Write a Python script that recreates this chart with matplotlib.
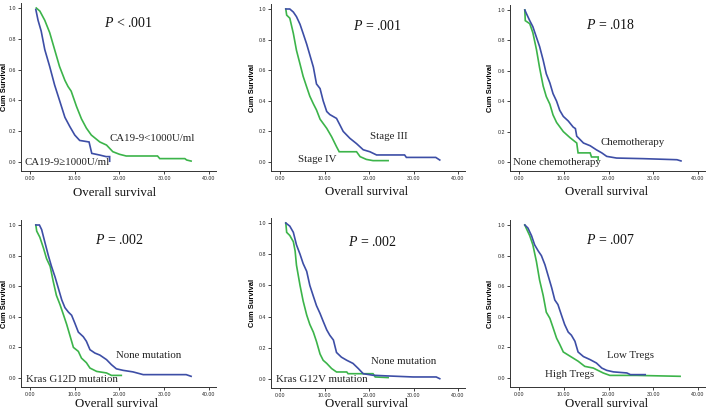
import matplotlib
matplotlib.use("Agg")
import matplotlib.pyplot as plt

plt.rcParams["mathtext.fontset"] = "custom"
plt.rcParams["mathtext.it"] = "Liberation Serif:italic"
plt.rcParams["mathtext.rm"] = "Liberation Serif"

W, H = 709, 411

BLUE = "#3d4ea6"
GREEN = "#3cb44a"

# ---------------- data ----------------
# Panel 1: CA19-9
p1_green_t = [1.4, 2.2, 3.3, 4.4, 5.5, 6.6, 7.8, 8.5, 9.2, 10.4, 11.5, 12.6, 13.7, 15.6, 17.1, 18.5, 20.0, 21.5, 28.5, 29.0, 34.6, 35.0, 36.0]
p1_green_s = [1.0, 0.98, 0.92, 0.84, 0.73, 0.62, 0.53, 0.49, 0.46, 0.36, 0.28, 0.22, 0.175, 0.13, 0.11, 0.067, 0.05, 0.039, 0.039, 0.022, 0.022, 0.013, 0.006]
p1_blue_t = [1.3, 1.8, 2.5, 3.3, 4.4, 5.5, 6.6, 7.8, 8.9, 10.0, 11.1, 13.2, 13.8, 15.6, 17.0, 17.8, 17.8]
p1_blue_s = [0.99, 0.92, 0.85, 0.73, 0.62, 0.50, 0.40, 0.29, 0.23, 0.175, 0.14, 0.13, 0.056, 0.045, 0.035, 0.035, 0.005]

# Panel 2: Stage
p2_blue_t = [1.3, 2.2, 3.0, 3.7, 4.5, 5.2, 6.0, 6.7, 7.5, 8.2, 9.0, 9.7, 10.5, 11.2, 12.7, 13.5, 14.2, 15.7, 17.2, 18.7, 20.2, 21.7, 28.0, 28.4, 35.0, 35.9]
p2_blue_s = [1.0, 1.0, 0.98, 0.95, 0.90, 0.84, 0.77, 0.70, 0.62, 0.51, 0.48, 0.40, 0.33, 0.31, 0.285, 0.24, 0.20, 0.155, 0.12, 0.08, 0.067, 0.046, 0.046, 0.03, 0.03, 0.013]
p2_green_t = [1.3, 1.5, 2.2, 3.0, 3.7, 4.5, 5.2, 6.0, 6.7, 7.5, 8.2, 9.0, 10.5, 11.6, 12.7, 13.3, 17.2, 18.0, 19.4, 20.9, 24.3]
p2_green_s = [1.0, 0.96, 0.94, 0.84, 0.73, 0.64, 0.56, 0.49, 0.43, 0.38, 0.34, 0.28, 0.22, 0.165, 0.10, 0.067, 0.067, 0.035, 0.017, 0.009, 0.009]

# Panel 3: Chemotherapy
p3_blue_t = [1.3, 1.6, 2.4, 3.1, 3.9, 4.6, 5.4, 6.1, 6.9, 7.6, 8.4, 9.1, 9.9, 11.0, 12.1, 12.6, 12.9, 14.4, 15.9, 17.3, 18.5, 19.6, 21.8, 27.8, 35.3, 36.2]
p3_blue_s = [1.0, 0.98, 0.93, 0.89, 0.82, 0.76, 0.67, 0.58, 0.52, 0.45, 0.40, 0.34, 0.30, 0.27, 0.23, 0.22, 0.17, 0.125, 0.107, 0.08, 0.06, 0.037, 0.026, 0.022, 0.015, 0.007]
p3_green_t = [1.3, 1.4, 2.4, 3.1, 3.9, 4.6, 5.4, 6.1, 6.9, 7.6, 8.4, 9.9, 11.4, 12.9, 13.2, 15.9, 16.2, 17.7, 17.7]
p3_green_s = [1.0, 0.93, 0.91, 0.85, 0.74, 0.62, 0.50, 0.43, 0.38, 0.31, 0.26, 0.20, 0.16, 0.125, 0.06, 0.06, 0.033, 0.033, 0.015]

# Panel 4: Kras G12D
p4_blue_t = [1.3, 2.1, 2.6, 3.3, 4.1, 4.8, 5.6, 6.3, 7.1, 7.8, 8.6, 9.3, 10.0, 10.8, 11.9, 12.6, 13.4, 14.5, 15.6, 17.1, 18.2, 19.3, 20.8, 23.0, 25.3, 34.9, 36.0]
p4_blue_s = [1.0, 1.0, 0.97, 0.89, 0.80, 0.73, 0.66, 0.59, 0.51, 0.46, 0.43, 0.41, 0.36, 0.30, 0.27, 0.24, 0.185, 0.163, 0.15, 0.12, 0.087, 0.06, 0.05, 0.04, 0.022, 0.022, 0.011]
p4_green_t = [1.3, 1.5, 2.2, 3.0, 3.7, 4.5, 5.2, 5.9, 6.7, 7.4, 8.2, 8.9, 9.7, 10.8, 11.5, 12.6, 13.4, 14.9, 17.1, 18.2, 20.4]
p4_green_s = [1.0, 0.96, 0.92, 0.85, 0.78, 0.73, 0.63, 0.54, 0.48, 0.42, 0.35, 0.28, 0.20, 0.174, 0.13, 0.10, 0.065, 0.043, 0.033, 0.017, 0.017]

# Panel 5: Kras G12V
p5_blue_t = [1.3, 2.2, 3.0, 3.7, 4.5, 5.2, 6.0, 6.7, 7.5, 8.2, 9.0, 9.7, 10.5, 11.2, 12.0, 12.7, 13.8, 15.0, 16.4, 17.6, 18.7, 20.9, 23.9, 29.9, 35.1, 35.9]
p5_blue_s = [1.0, 0.98, 0.94, 0.86, 0.80, 0.74, 0.69, 0.60, 0.53, 0.47, 0.42, 0.37, 0.315, 0.28, 0.25, 0.17, 0.14, 0.12, 0.10, 0.067, 0.034, 0.024, 0.02, 0.013, 0.013, 0.002]
p5_green_t = [1.3, 1.5, 2.2, 3.0, 3.4, 3.7, 4.5, 5.2, 6.0, 6.7, 7.5, 8.2, 9.0, 9.7, 10.5, 11.6, 12.7, 15.0, 15.3, 20.9, 21.4, 24.3]
p5_green_s = [1.0, 0.94, 0.92, 0.88, 0.82, 0.73, 0.60, 0.50, 0.41, 0.35, 0.30, 0.24, 0.16, 0.12, 0.10, 0.067, 0.045, 0.045, 0.034, 0.034, 0.013, 0.009]

# Panel 6: Tregs
p6_blue_t = [1.3, 2.0, 2.8, 3.5, 4.3, 5.0, 5.8, 6.5, 7.3, 8.0, 8.7, 9.5, 10.2, 11.0, 11.7, 12.5, 13.2, 14.4, 15.9, 17.3, 18.5, 19.6, 21.1, 24.1, 24.9, 28.2]
p6_blue_s = [1.0, 0.98, 0.93, 0.87, 0.83, 0.80, 0.74, 0.67, 0.59, 0.51, 0.48, 0.41, 0.35, 0.30, 0.28, 0.24, 0.17, 0.14, 0.12, 0.098, 0.065, 0.05, 0.04, 0.033, 0.022, 0.022]
p6_green_t = [1.3, 1.6, 2.4, 3.1, 3.9, 4.6, 5.4, 6.1, 6.9, 7.6, 8.4, 9.1, 9.9, 11.0, 12.1, 13.2, 14.7, 16.6, 18.8, 20.3, 26.3, 36.0]
p6_green_s = [1.0, 0.98, 0.93, 0.87, 0.76, 0.64, 0.54, 0.43, 0.39, 0.33, 0.26, 0.22, 0.17, 0.15, 0.13, 0.11, 0.076, 0.065, 0.033, 0.017, 0.017, 0.011]

p_values = ["< .001", "= .001", "= .018", "= .002", "= .002", "= .007"]
x_ticks = [0, 10, 20, 30, 40]
x_ticklabels = ["0.00", "10.00", "20.00", "30.00", "40.00"]
y_ticks = [0.0, 0.2, 0.4, 0.6, 0.8, 1.0]
y_ticklabels = ["0.0", "0.2", "0.4", "0.6", "0.8", "1.0"]

panels = [
    dict(curves=[(p1_green_t, p1_green_s, GREEN), (p1_blue_t, p1_blue_s, BLUE)],
         labels=[("CA19-9<1000U/ml", 17.8, 0.154), ("CA19-9\u22651000U/ml", -1.2, 0.0)],
         pxy=(22.0, 0.90), px=(30, 209, 8, 162), ylab_x=5, xlab=(115, 193)),
    dict(curves=[(p2_green_t, p2_green_s, GREEN), (p2_blue_t, p2_blue_s, BLUE)],
         labels=[("Stage III", 20.2, 0.165), ("Stage IV", 4.1, 0.017)],
         pxy=(21.8, 0.89), px=(280, 458, 9, 162), ylab_x=253, xlab=(367, 192)),
    dict(curves=[(p3_green_t, p3_green_s, GREEN), (p3_blue_t, p3_blue_s, BLUE)],
         labels=[("Chemotherapy", 18.2, 0.13), ("None chemotherapy", -1.3, -0.003)],
         pxy=(20.5, 0.90), px=(519, 698, 10, 162), ylab_x=490, xlab=(607, 192)),
    dict(curves=[(p4_green_t, p4_green_s, GREEN), (p4_blue_t, p4_blue_s, BLUE)],
         labels=[("None mutation", 19.2, 0.148), ("Kras G12D mutation", -0.9, -0.007)],
         pxy=(19.9, 0.90), px=(30, 209, 225, 378), ylab_x=5, xlab=(117, 404)),
    dict(curves=[(p5_green_t, p5_green_s, GREEN), (p5_blue_t, p5_blue_s, BLUE)],
         labels=[("None mutation", 20.4, 0.115), ("Kras G12V mutation", -1.0, -0.002)],
         pxy=(20.8, 0.88), px=(280, 458, 223, 379), ylab_x=253, xlab=(367, 404)),
    dict(curves=[(p6_green_t, p6_green_s, GREEN), (p6_blue_t, p6_blue_s, BLUE)],
         labels=[("Low Tregs", 19.7, 0.148), ("High Tregs", 5.8, 0.026)],
         pxy=(20.5, 0.90), px=(519, 698, 225, 378), ylab_x=490, xlab=(607, 404)),
]

SERIF = ["Liberation Serif", "DejaVu Serif"]
SANS = ["Liberation Sans", "DejaVu Sans"]

XLIM = (-2.0, 41.5)
YLIM = (-0.06, 1.03)

fig = plt.figure(figsize=(W / 100, H / 100), dpi=100)
fig.patch.set_facecolor("white")

for i, p in enumerate(panels):
    x0, x40, y1, y0 = p["px"]
    sx = (x40 - x0) / 40.0
    sy = (y0 - y1) / 1.0
    lpx = x0 + XLIM[0] * sx
    rpx = x0 + XLIM[1] * sx
    tpx = y0 - YLIM[1] * sy
    bpx = y0 - YLIM[0] * sy
    ax = fig.add_axes([lpx / W, 1 - bpx / H, (rpx - lpx) / W, (bpx - tpx) / H])
    ax.set_xlim(*XLIM)
    ax.set_ylim(*YLIM)
    for t, s, c in p["curves"]:
        ax.plot(t, s, color=c, lw=1.2, solid_joinstyle="miter")
    for side in ("top", "right"):
        ax.spines[side].set_visible(False)
    for side in ("left", "bottom"):
        ax.spines[side].set_linewidth(0.7)
        ax.spines[side].set_color("#333333")
    ax.set_xticks(x_ticks)
    ax.set_xticklabels(x_ticklabels, fontsize=3.8, family=SANS)
    ax.set_yticks(y_ticks)
    ax.set_yticklabels(y_ticklabels, fontsize=3.8, family=SANS)
    ax.tick_params(direction="out", length=2, width=0.6, pad=1.5, colors="#222222")
    ax.patch.set_alpha(0)
    for txt, tx, ty in p["labels"]:
        ax.text(tx, ty, txt, fontsize=7.8, family=SERIF, ha="left", va="center", color="#222222")
    px, py = p["pxy"]
    ax.text(px, py, "$\\mathit{P}$ " + p_values[i], fontsize=10, family=SERIF,
            ha="center", va="center", color="#111111")
    ymid = (tpx + bpx) / 2
    fig.text(p["ylab_x"] / W, 1 - ymid / H, "Cum Survival", rotation=90, fontsize=5.4,
             fontweight="bold", family=SANS, ha="center", va="center")
    xlx, xly = p["xlab"]
    fig.text(xlx / W, 1 - xly / H, "Overall survival", fontsize=9.3, family=SERIF,
             ha="center", va="center", color="#111111")

fig.savefig("out.png", dpi=100)
